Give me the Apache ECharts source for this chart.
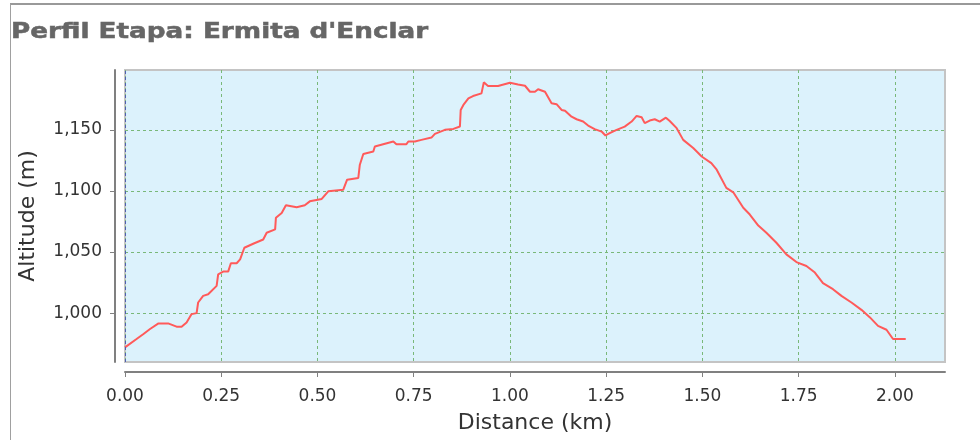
<!DOCTYPE html>
<html>
<head>
<meta charset="utf-8">
<script src="https://cdn.jsdelivr.net/npm/echarts@6/dist/echarts.min.js"></script>
<style>
html,body{margin:0;padding:0;background:#fff;}
#chart{width:980px;height:440px;}
</style>
</head>
<body>
<div id="chart"></div>
<script>
const titleText = "Perfil Etapa: Ermita d'Enclar";
const xName = "Distance (km)";
const yName = "Altitude (m)";
const xTicks = [0, 0.25, 0.5, 0.75, 1.0, 1.25, 1.5, 1.75, 2.0];
const yTicks = [1000, 1050, 1100, 1150];
const distKm = [0.000,0.030,0.048,0.065,0.087,0.112,0.116,0.134,0.147,0.160,0.173,0.186,0.190,0.203,0.216,0.238,0.242,0.255,0.268,0.275,0.290,0.299,0.310,0.333,0.359,0.368,0.390,0.392,0.407,0.418,0.446,0.467,0.480,0.511,0.528,0.567,0.577,0.606,0.610,0.619,0.645,0.649,0.697,0.705,0.731,0.736,0.753,0.770,0.796,0.805,0.831,0.853,0.870,0.872,0.879,0.892,0.904,0.926,0.932,0.943,0.969,0.974,1.000,1.021,1.039,1.052,1.065,1.073,1.091,1.108,1.121,1.134,1.143,1.160,1.173,1.190,1.203,1.220,1.238,1.248,1.259,1.277,1.298,1.316,1.329,1.342,1.350,1.363,1.376,1.389,1.405,1.415,1.433,1.450,1.476,1.498,1.523,1.537,1.562,1.580,1.606,1.623,1.645,1.666,1.692,1.718,1.744,1.770,1.792,1.813,1.839,1.861,1.887,1.913,1.935,1.956,1.978,1.995,2.028];
const altitudeM = [972.0,978.8,982.9,987.0,991.6,991.6,993.0,988.9,988.9,992.4,999.2,1000.0,1008.7,1014.1,1015.4,1022.3,1031.8,1034.0,1034.0,1040.8,1040.8,1044.0,1053.5,1056.8,1060.3,1065.8,1068.5,1078.0,1082.0,1088.3,1086.7,1088.3,1091.5,1093.5,1099.7,1101.0,1109.2,1110.6,1121.5,1130.2,1132.3,1136.4,1140.5,1138.3,1138.3,1140.5,1140.5,1141.8,1143.7,1146.7,1150.0,1150.8,1152.7,1166.3,1170.4,1175.8,1177.7,1179.9,1188.9,1185.9,1185.9,1187.5,1188.6,1187.2,1186.1,1181.2,1181.2,1183.2,1181.2,1171.8,1171.0,1166.3,1165.7,1160.8,1158.7,1156.8,1153.5,1150.6,1148.6,1145.4,1147.3,1150.0,1152.7,1156.8,1161.4,1160.3,1155.5,1157.6,1158.7,1156.8,1160.0,1157.3,1151.4,1141.8,1135.1,1128.2,1122.8,1117.4,1102.5,1098.9,1086.2,1080.7,1071.7,1065.8,1057.6,1048.1,1041.8,1038.6,1033.2,1024.5,1019.6,1014.1,1008.7,1002.7,996.5,989.6,986.4,978.8,978.8];

const seriesData = distKm.map((d, i) => [d, altitudeM[i]]);
const chart = echarts.init(document.getElementById('chart'), null, {renderer: 'canvas'});
const FONT = 'DejaVu Sans';
chart.setOption({
  animation: false,
  backgroundColor: '#ffffff',
  graphic: [
    {type: 'line', shape: {x1: 10, y1: 4, x2: 980, y2: 4}, style: {stroke: '#999999', lineWidth: 2}, silent: true},
    {type: 'line', shape: {x1: 10.5, y1: 4, x2: 10.5, y2: 440}, style: {stroke: '#a0a0a0', lineWidth: 1}, silent: true},
    {type: 'text', x: 11, y: 22, scaleX: 1.25, silent: true,
      style: {text: titleText, font: 'bold 21px "DejaVu Sans"', fill: '#666666', stroke: '#666666', lineWidth: 0.5,
        verticalAlign: 'top', align: 'left'}}
  ],
  grid: {
    left: 125, right: 35, top: 70, bottom: 78,
    outerBoundsMode: 'none',
    show: true,
    backgroundColor: '#dcf2fc',
    borderColor: '#c4c4c4',
    borderWidth: 2
  },
  xAxis: {
    type: 'value',
    min: 0, max: 2.13,
    offset: 10,
    name: xName,
    nameLocation: 'middle',
    nameGap: 40,
    nameTextStyle: {fontFamily: FONT, fontSize: 22, color: '#333333'},
    axisLine: {show: true, onZero: false, lineStyle: {color: '#808080', width: 2}},
    axisTick: {show: true, length: 5, customValues: xTicks, lineStyle: {color: '#808080', width: 1}},
    axisLabel: {customValues: xTicks, margin: 16, fontFamily: FONT, fontSize: 17, color: '#333333',
      formatter: v => v.toFixed(2)},
    splitLine: {show: true, lineStyle: {color: '#79b879', type: [3, 3], width: 1}}
  },
  yAxis: {
    type: 'value',
    min: 960, max: 1199,
    offset: 10,
    name: yName,
    nameLocation: 'middle',
    nameGap: 76,
    nameTextStyle: {fontFamily: FONT, fontSize: 22, color: '#333333'},
    axisLine: {show: true, onZero: false, lineStyle: {color: '#808080', width: 2}},
    axisTick: {show: true, length: 5, customValues: yTicks, lineStyle: {color: '#808080', width: 1}},
    axisLabel: {customValues: yTicks, margin: 13, fontFamily: FONT, fontSize: 17, color: '#333333',
      formatter: v => v.toLocaleString('en-US')},
    splitLine: {show: true, lineStyle: {color: '#79b879', type: [3, 3], width: 1}}
  },
  series: [{
    type: 'line',
    data: seriesData,
    showSymbol: false,
    symbol: 'none',
    lineStyle: {color: '#ff5a5a', width: 2},
    markLine: {
      silent: true,
      symbol: 'none',
      label: {show: false},
      lineStyle: {color: '#5060b0', type: [3, 3], width: 1},
      data: [{xAxis: 0}]
    }
  }]
});
</script>
</body>
</html>
